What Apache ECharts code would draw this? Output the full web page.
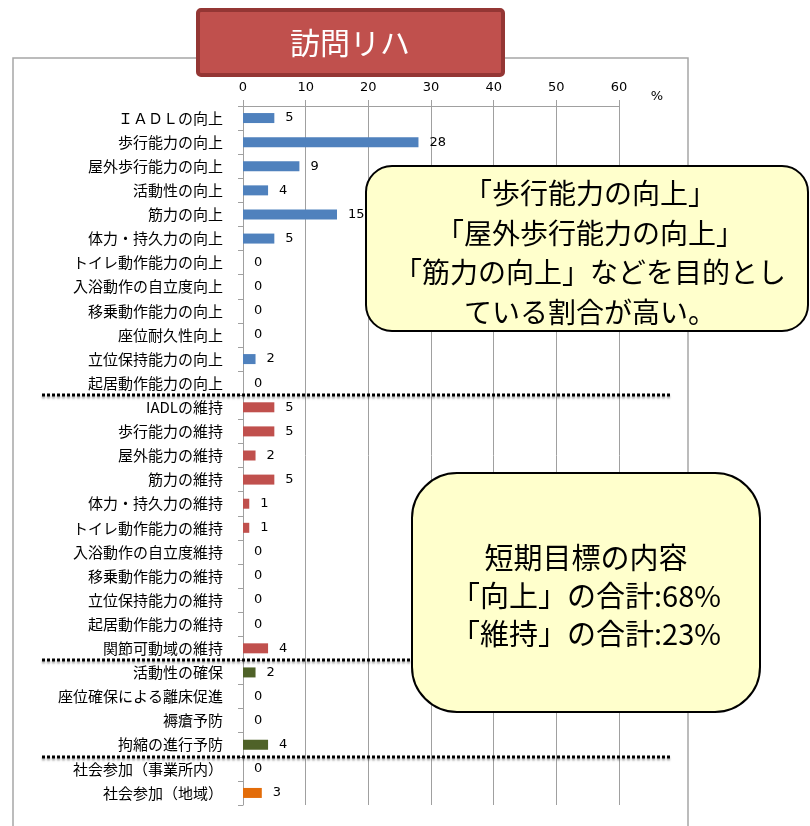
<!DOCTYPE html>
<html><head><meta charset="utf-8">
<script src="https://cdn.jsdelivr.net/npm/echarts@6/dist/echarts.min.js"></script>
<style>html,body{margin:0;padding:0;background:#fff}#c{width:810px;height:826px}</style>
</head><body><div id="c"></div>
<script>
// ---- data ----
const upLabels = ['ＩＡＤＬの向上','歩行能力の向上','屋外歩行能力の向上','活動性の向上','筋力の向上','体力・持久力の向上','トイレ動作能力の向上','入浴動作の自立度向上','移乗動作能力の向上','座位耐久性向上','立位保持能力の向上','起居動作能力の向上'];
const upValues = [5,28,9,4,15,5,0,0,0,0,2,0];
const keepLabels = ['IADLの維持','歩行能力の維持','屋外能力の維持','筋力の維持','体力・持久力の維持','トイレ動作能力の維持','入浴動作の自立度維持','移乗動作能力の維持','立位保持能力の維持','起居動作能力の維持','関節可動域の維持'];
const keepValues = [5,5,2,5,1,1,0,0,0,0,4];
const careLabels = ['活動性の確保','座位確保による離床促進','褥瘡予防','拘縮の進行予防'];
const careValues = [2,0,0,4];
const socialLabels = ['社会参加（事業所内）','社会参加（地域）'];
const socialValues = [0,3];
const xTicks = {min:0, max:60, interval:10};
const titleText = '訪問リハ';
const note1 = ['「歩行能力の向上」','「屋外歩行能力の向上」','「筋力の向上」などを目的とし','ている割合が高い。'];
const note2 = ['短期目標の内容','「向上」の合計:68%','「維持」の合計:23%'];

// ---- build ----
const groups = [
  {labels: upLabels, values: upValues, color: '#4F81BD'},
  {labels: keepLabels, values: keepValues, color: '#C0504D'},
  {labels: careLabels, values: careValues, color: '#4F6228'},
  {labels: socialLabels, values: socialValues, color: '#E36C09'}
];
const categories = [], data = [], boundaries = [];
groups.forEach((g, gi) => {
  g.labels.forEach((l, i) => {
    categories.push(l);
    data.push({value: g.values[i], itemStyle: {color: g.color}});
  });
  if (gi < groups.length - 1) boundaries.push(categories.length);
});

const chart = echarts.init(document.getElementById('c'), null, {renderer: 'canvas'});
const cjk = '"Noto Sans CJK JP", "Noto Sans", sans-serif';
chart.setOption({
  animation: false,
  grid: {left: 243, top: 106, width: 376, height: 699, containLabel: false},
  xAxis: {
    type: 'value', position: 'top', min: xTicks.min, max: xTicks.max, interval: xTicks.interval,
    axisLine: {show: true, lineStyle: {color: '#A0A0A0', width: 1}},
    axisTick: {show: true, inside: false, length: 6, lineStyle: {color: '#A0A0A0'}},
    axisLabel: {margin: 12, fontSize: 13, color: '#000', fontFamily: '"DejaVu Sans", sans-serif'},
    splitLine: {show: true, lineStyle: {color: '#A0A0A0', width: 1}}
  },
  yAxis: {
    type: 'category', inverse: true, data: categories,
    axisLine: {show: true, lineStyle: {color: '#A0A0A0'}},
    axisTick: {show: true, length: 5, lineStyle: {color: '#A0A0A0'}},
    axisLabel: {margin: 20, fontSize: 15, color: '#000', fontFamily: cjk, interval: 0}
  },
  series: [{
    type: 'bar', data: data, barWidth: 10,
    label: {show: true, position: 'right', distance: 11, fontSize: 13, color: '#000', fontFamily: '"DejaVu Sans", sans-serif'}
  }]
});

const yOf = i => chart.convertToPixel({yAxisIndex: 0}, i);
const band = yOf(1) - yOf(0);
const graphics = [];
// outer frame
graphics.push({type: 'rect', z: 0, shape: {x: 13, y: 58, width: 675, height: 800}, style: {fill: 'none', stroke: '#A6A6A6', lineWidth: 1.5}});
// dotted separators
boundaries.forEach(b => {
  const y = Math.round(yOf(b) - band / 2);
  graphics.push({type: 'line', z: 50, shape: {x1: 42, y1: y, x2: 672, y2: y},
    style: {stroke: '#000', lineWidth: 3, lineDash: [3, 2], shadowColor: 'rgba(0,0,0,0.35)', shadowOffsetY: 2, shadowBlur: 2}});
});
// percent unit
graphics.push({type: 'text', z: 50, x: 657, y: 97, style: {text: '%', fontSize: 13, fill: '#000', fontFamily: '"DejaVu Sans", sans-serif', align: 'center', verticalAlign: 'middle'}});
// title box
graphics.push({type: 'rect', z: 100, shape: {x: 198, y: 10, width: 305, height: 65, r: 3}, style: {fill: '#C0504D', stroke: '#943634', lineWidth: 4}});
graphics.push({type: 'text', z: 101, x: 350, y: 43, style: {text: titleText, fontSize: 30, fill: '#fff', fontFamily: cjk, align: 'center', verticalAlign: 'middle'}});
// callout 1
graphics.push({type: 'rect', z: 100, shape: {x: 366, y: 166, width: 442, height: 165, r: 26}, style: {fill: '#FFFFCC', stroke: '#000', lineWidth: 2}});
graphics.push({type: 'text', z: 101, x: 590, y: 253, style: {text: note1.join('\n'), fontSize: 28, lineHeight: 39.5, fill: '#000', fontFamily: cjk, align: 'center', verticalAlign: 'middle'}});
// callout 2
graphics.push({type: 'rect', z: 100, shape: {x: 412, y: 473, width: 348, height: 239, r: 45}, style: {fill: '#FFFFCC', stroke: '#000', lineWidth: 2}});
graphics.push({type: 'text', z: 101, x: 586, y: 596, style: {text: note2.join('\n'), fontSize: 29, lineHeight: 38, fill: '#000', fontFamily: cjk, align: 'center', verticalAlign: 'middle'}});
chart.setOption({graphic: graphics});
</script></body></html>
